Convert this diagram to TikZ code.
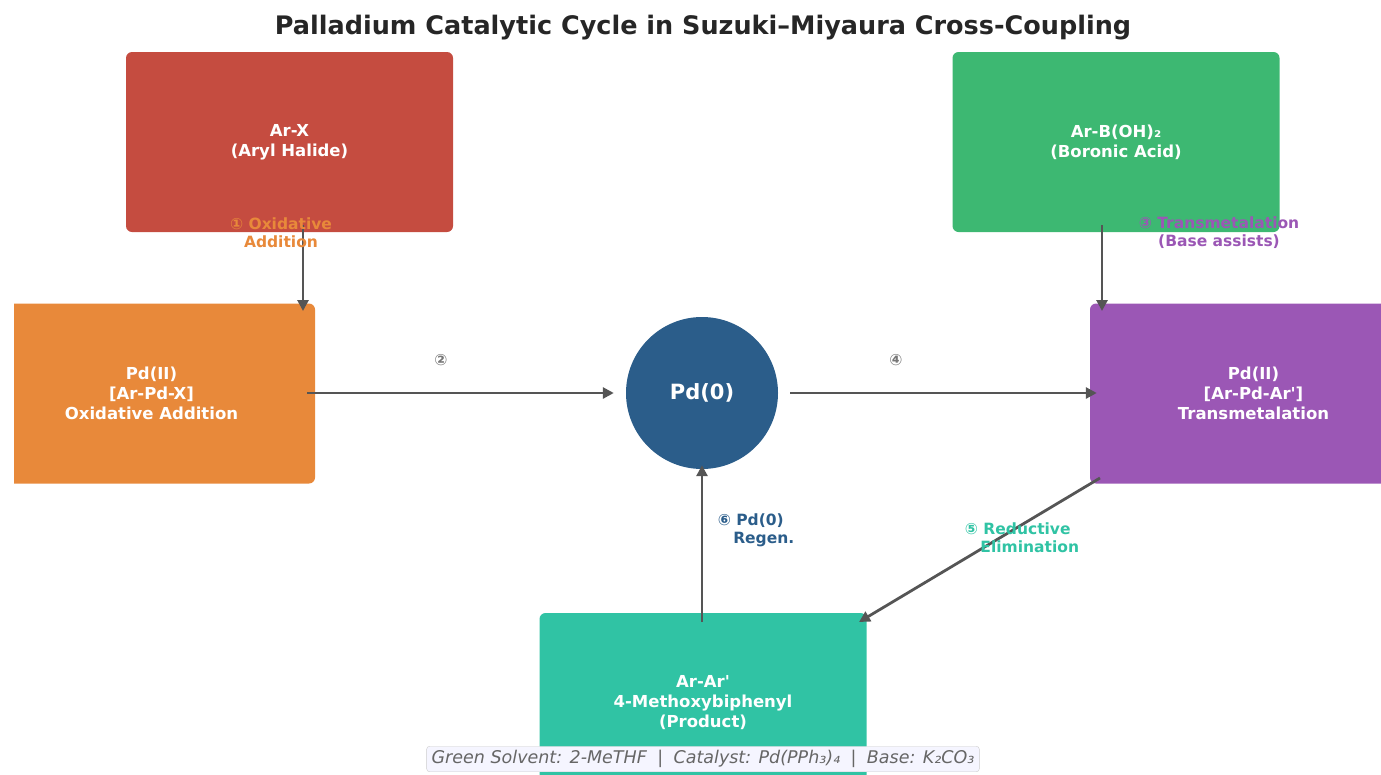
\documentclass[tikz,border=0pt]{standalone}
\usepackage{fontspec}
\setmainfont{DejaVu Sans}[Ligatures=TeXOff]
\usetikzlibrary{arrows.meta}

\definecolor{boxred}{HTML}{C54C40}
\definecolor{boxorange}{HTML}{E8893A}
\definecolor{boxgreen}{HTML}{3DB872}
\definecolor{boxpurple}{HTML}{9B57B5}
\definecolor{boxteal}{HTML}{30C3A4}
\definecolor{pdblue}{HTML}{2B5D8A}
\definecolor{arrowgray}{HTML}{555555}

\tikzset{
  stage/.style={rounded corners=6pt, minimum width=327pt, minimum height=180pt,
    text=white, font=\bfseries\fontsize{16.5}{20}\selectfont, align=center},
  flow/.style={draw=arrowgray, line width=2.8pt, -{Triangle[length=11pt,width=11pt]}},
  steplabel/.style={font=\bfseries\fontsize{15.5}{18}\selectfont, align=center}
}

\begin{document}
\begin{tikzpicture}[x=1pt,y=-1pt]
		\useasboundingbox (0,0) rectangle (1381,774);
		
		\node[font=\bfseries\fontsize{25.5}{30}\selectfont, text=black!85] (title) at (703,28) {Palladium Catalytic Cycle in Suzuki–Miyaura Cross-Coupling};
		
		% reagents
		\node[stage, fill=boxred] (arx) at (289.5,142) {Ar-X\\(Aryl Halide)};
		\node[stage, fill=boxgreen] (arb) at (1116,142) {Ar-B(OH)₂\\(Boronic Acid)};
		
		% intermediates, cut at the frame
		\begin{scope}
			\clip (14,0) rectangle (1381,774);
			\node[stage, fill=boxorange] (pdox) at (151.5,393.5) {Pd(II)\\{[Ar-Pd-X]}\\Oxidative Addition};
			\node[stage, fill=boxpurple] (pdtm) at (1253.5,393.5) {Pd(II)\\{[Ar-Pd-Ar']}\\Transmetalation};
			\node[stage, fill=boxteal] (prod) at (703,703) {Ar-Ar'\\4-Methoxybiphenyl\\(Product)};
		\end{scope}
		
		\node[circle, fill=pdblue, minimum size=152pt, text=white, font=\bfseries\fontsize{21}{25}\selectfont] (pd0) at (702,393) {Pd(0)};
		
		% cycle arrows
		\coordinate (a1s) at (303,225);
		\coordinate (a1e) at (303,311);
		\coordinate (a2s) at (307,393);
		\coordinate (a3s) at (1102,225);
		\coordinate (a3e) at (1102,311);
		\coordinate (a5s) at (1100,478);
		\coordinate (a5e) at (859,622);
		\coordinate (a6s) at (702,622);
		
		\draw[flow] (a1s) -- (a1e);
		\draw[flow] (a2s) -- ([xshift=-12pt]pd0.west);
		\draw[flow] ([xshift=12pt]pd0.east) -- ([xshift=7pt]pdtm.west |- pd0);
		\draw[flow] (a3s) -- (a3e);
		\draw[flow] (a5s) -- (a5e);
		\draw[flow] (a6s) -- ([yshift=4pt]pd0.south);
		
		% step labels
		\node[steplabel, text=boxorange] (l1) at (281,233) {① Oxidative\\Addition};
		\node[steplabel, text=arrowgray!80] (l2) at (441,360) {②};
		\node[steplabel, text=boxpurple] (l3) at (1219,233) {③ Transmetalation\\(Base assists)};
		\node[steplabel, text=arrowgray!80] (l4) at (896,360) {④};
		\node[steplabel, text=boxteal, align=left] (l5) at (1022,538) {⑤ Reductive\\\quad Elimination};
		\node[steplabel, text=pdblue, align=left] (l6) at (756,530) {⑥ Pd(0)\\\quad Regen.};
		
		% conditions
		\node[draw=gray!40, fill=blue!4, rounded corners=3pt, inner xsep=5pt, inner ysep=4pt, text=black!60, font=\itshape\fontsize{17.5}{20}\selectfont] (cond) at (703,759) {Green Solvent: 2-MeTHF \;|\; Catalyst: Pd(PPh₃)₄ \;|\; Base: K₂CO₃};
	\end{tikzpicture}
\end{document}
